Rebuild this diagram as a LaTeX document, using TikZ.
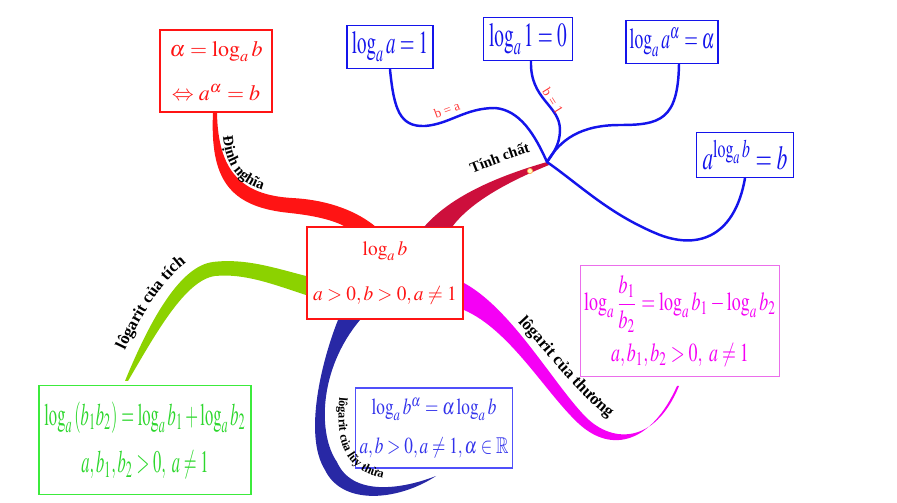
\documentclass[tikz,border=0pt]{standalone}
\usepackage{amsmath}
\usepackage{amssymb}
\usepackage{graphicx}
\usepackage{mathptmx}
\usepackage{fontspec}
\setmainfont{Liberation Serif}
\usetikzlibrary{decorations.text,calc}
\definecolor{defRed}{RGB}{255,20,20}
\definecolor{propBlue}{RGB}{20,20,235}
\definecolor{propCrimson}{RGB}{205,15,60}
\definecolor{prodGreen}{RGB}{60,235,60}
\definecolor{prodText}{RGB}{45,215,45}
\definecolor{prodBranch}{RGB}{140,210,0}
\definecolor{powNavy}{RGB}{40,40,165}
\definecolor{powBlue}{RGB}{80,80,250}
\definecolor{powText}{RGB}{50,50,235}
\definecolor{quotMag}{RGB}{245,0,245}
\definecolor{quotBox}{RGB}{235,110,235}
\newcommand{\tallm}[2]{\scalebox{1}[#1]{#2}}
\tikzset{
  mBox/.style={draw,line width=.8pt,align=center,inner sep=1pt},
  mDef/.style={mBox,draw=defRed,text=defRed,minimum width=2.24cm,
        minimum height=1.64cm,font=\fontsize{12.5}{25.5}\selectfont},
  mCore/.style={mBox,draw=defRed,text=defRed,minimum width=3.12cm,
        minimum height=1.84cm,font=\fontsize{11}{26}\selectfont},
  mProp/.style={mBox,draw=propBlue,text=propBlue,minimum height=.87cm},
  mProd/.style={mBox,draw=prodGreen,text=prodText,minimum width=4.24cm,
        minimum height=2.18cm,font=\fontsize{9.4}{27}\selectfont},
  mPow/.style={mBox,draw=powBlue,text=powText,minimum width=3.14cm,
        minimum height=1.6cm,font=\fontsize{9.8}{22}\selectfont},
  mQuot/.style={mBox,draw=quotBox,text=quotMag,minimum width=3.98cm,
        minimum height=2.22cm,font=\fontsize{10.2}{29}\selectfont},
  propLine/.style={draw=propBlue,line width=1.4pt,line cap=round},
  caseLbl/.style={text=defRed!85,font=\fontsize{7.5}{7.5}\selectfont,inner sep=0pt},
  brLabel/.style 2 args={decorate,decoration={text along path,text align=center,
        text={|\bfseries\fontsize{#1}{#1}\selectfont|#2}}},
}

\begin{document}
\begin{tikzpicture}[x=0.02cm,y=-0.02cm]
\useasboundingbox (0,0) rectangle (897,503);
% boxes
\node[mDef]  (def)  at (216,71)  {$\alpha=\log_a b$\\$\Leftrightarrow a^{\alpha}=b$};
\node[mCore] (core) at (385,273) {\tallm{1.05}{$\log_a b$}\\\tallm{1.05}{$a>0,b>0,a\neq 1$}};
\node[mProp,minimum width=1.72cm,font=\fontsize{10.8}{13}\selectfont]
      (b1) at (390,47) {\tallm{1.7}{$\log_a a=1$}};
\node[mProp,minimum width=1.78cm,font=\fontsize{11}{13}\selectfont]
      (b2) at (528,39) {\tallm{1.75}{$\log_a 1=0$}};
\node[mProp,minimum width=1.84cm,font=\fontsize{10}{13}\selectfont]
      (b3) at (672,42) {\tallm{1.65}{$\log_a a^{\alpha}=\alpha$}};
\node[mProp,minimum width=1.94cm,minimum height=.9cm,font=\fontsize{12}{14}\selectfont]
      (b4) at (745,155) {\tallm{1.6}{$a^{\log_a b}=b$}};
\node[mProd] (prod) at (145,440) {\tallm{1.9}{$\log_a\left(b_1b_2\right)=\log_a b_1+\log_a b_2$}\\
      \tallm{1.9}{$a,b_1,b_2>0,\ a\neq 1$}};
\node[mPow]  (pow)  at (434,428) {\tallm{1.33}{$\log_a b^{\alpha}=\alpha\log_a b$}\\
      \tallm{1.33}{$a,b>0,a\neq 1,\alpha\in\mathbb{R}$}};
\node[mQuot] (quot) at (680,321) {\tallm{1.45}{$\log_a\dfrac{b_1}{b_2}=\log_a b_1-\log_a b_2$}\\
      \tallm{1.45}{$a,b_1,b_2>0,\ a\neq 1$}};
\coordinate (hub) at (547,162);

% branches
\fill[defRed] ($(def.south)+(-3,0)$) .. controls (210,178) and (228,207) .. (290,213)
   .. controls (318,216) and (335,221) .. (346,227) -- (376,227)
   .. controls (358,212) and (330,200) .. (292,198)
   .. controls (242,195) and (218,172) .. ($(def.south)+(1,0)$) -- cycle;
\fill[propCrimson] (424,227) .. controls (450,197) and (495,177) .. (hub)
   -- (549,165) .. controls (505,183) and (470,203) .. (452,227) -- cycle;
\fill[prodBranch] (306,276) .. controls (275,268) and (245,258) .. (213,262)
   .. controls (180,266) and (150,320) .. (125,381) -- (128,381)
   .. controls (155,335) and (185,280) .. (215,276)
   .. controls (245,273) and (275,285) .. (306,295) -- cycle;
\fill[powNavy] (338,320) .. controls (322,360) and (303,435) .. (325,470)
   .. controls (343,507) and (400,500) .. (436,476)
   .. controls (400,490) and (352,496) .. (337,462)
   .. controls (318,435) and (318,370) .. (360,320) -- cycle;
\fill[quotMag] (464,283) .. controls (510,308) and (550,378) .. (582,413)
   .. controls (610,445) and (655,445) .. (679,386) -- (677,386)
   .. controls (652,442) and (612,455) .. (578,423)
   .. controls (545,392) and (510,330) .. (464,310) -- cycle;
\filldraw[fill=yellow!25,draw=orange!70,line width=.4pt] (530,171) circle (2.6);

% properties
\draw[propLine] (hub) .. controls (535,135) and (520,110) .. (495,108)
   .. controls (465,108) and (450,124) .. (425,126)
   .. controls (400,127) and (394,110) .. (b1.south);
\draw[propLine] (hub) .. controls (552,155) and (560,145) .. (560,130)
   .. controls (560,105) and (530,100) .. ([xshift=0.06cm]b2.south);
\draw[propLine] (hub) .. controls (560,140) and (580,125) .. (620,125)
   .. controls (660,125) and (678,120) .. ([xshift=0.14cm]b3.south);
\draw[propLine] (hub) .. controls (580,185) and (610,215) .. (660,235)
   .. controls (700,250) and (735,235) .. (b4.south);
\node[caseLbl,rotate=20]  (ca) at (447,110) {b = a};
\node[caseLbl,rotate=-58] (cb) at (553,101) {b = 1};

% labels
\path[brLabel={8.5}{Định nghĩa}] (222,122) .. controls (223,165) and (236,187) .. (277,193);
\path[brLabel={8.5}{Tính chất}] (466,176) .. controls (488,167) and (510,158) .. (537,150);
\path[brLabel={9.5}{lôgarit của tích}] (115,372) .. controls (138,320) and (165,268) .. (207,251);
\path[brLabel={7}{lôgarit của lũy thừa}] (341,383) .. controls (334,440) and (339,474) .. (397,481);
\path[brLabel={9.5}{lôgarit của thương}] (511,315) .. controls (543,347) and (578,397) .. (617,424);
\end{tikzpicture}
\end{document}
